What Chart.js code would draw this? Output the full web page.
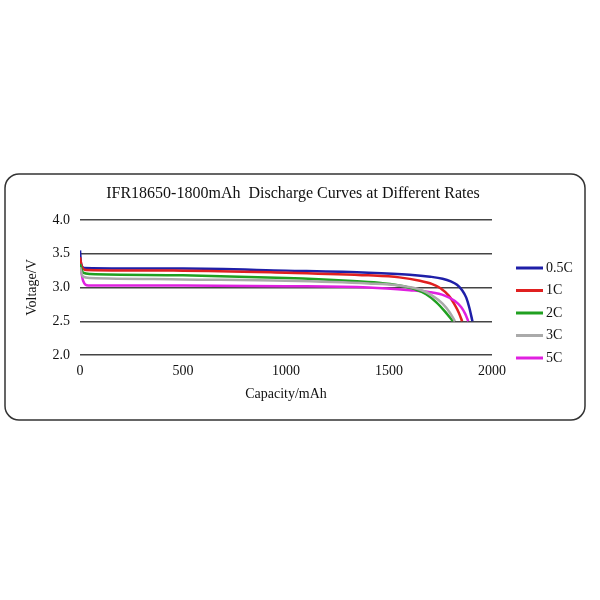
<!DOCTYPE html>
<html>
<head>
<meta charset="utf-8">
<script src="https://cdn.jsdelivr.net/npm/chart.js@4"></script>
<style>
  html, body { margin: 0; padding: 0; background: #fff; }
  #wrap { width: 600px; height: 600px; }
</style>
</head>
<body>
<div id="wrap"><canvas id="chart" width="600" height="600"></canvas></div>
<script>
// Discharge curves: capacity (mAh) / voltage (V)
const rates = ['0.5C', '1C', '2C', '3C', '5C'];
const colors = ['#1f1fa8', '#e02020', '#20a020', '#aaaaaa', '#e020e0'];
const cap05 = [0, 5, 20, 500, 1000, 1400, 1600, 1700, 1760, 1800, 1830, 1855, 1875, 1890, 1905];
const volt05 = [3.55, 3.35, 3.29, 3.28, 3.25, 3.22, 3.19, 3.16, 3.13, 3.09, 3.04, 2.96, 2.85, 2.7, 2.5];
const cap1 = [0, 10, 30, 500, 1000, 1400, 1550, 1650, 1710, 1750, 1790, 1820, 1840, 1855];
const volt1 = [3.45, 3.3, 3.26, 3.25, 3.22, 3.18, 3.15, 3.1, 3.05, 2.99, 2.88, 2.74, 2.62, 2.5];
const cap2 = [0, 15, 50, 500, 1000, 1300, 1450, 1550, 1620, 1680, 1730, 1770, 1810];
const volt2 = [3.35, 3.22, 3.2, 3.18, 3.14, 3.1, 3.07, 3.03, 2.98, 2.9, 2.78, 2.65, 2.5];
const cap3 = [0, 15, 50, 500, 1000, 1400, 1550, 1650, 1710, 1760, 1795, 1820];
const volt3 = [3.3, 3.16, 3.14, 3.12, 3.1, 3.06, 3.03, 2.97, 2.88, 2.76, 2.63, 2.5];
const cap5 = [0, 15, 40, 500, 1000, 1400, 1600, 1700, 1770, 1820, 1850, 1870, 1885];
const volt5 = [3.35, 3.1, 3.03, 3.03, 3.02, 3.0, 2.96, 2.93, 2.88, 2.8, 2.71, 2.61, 2.5];
const yTicks = [2.0, 2.5, 3.0, 3.5, 4.0];
const xTicks = [0, 500, 1000, 1500, 2000];

const caps = [cap05, cap1, cap2, cap3, cap5];
const volts = [volt05, volt1, volt2, volt3, volt5];
const serif = '"Liberation Serif", "DejaVu Serif", serif';

// Draw order: back to front roughly as in the picture
const order = [3, 2, 4, 1, 0];
const datasets = order.map(i => ({
    label: rates[i],
    data: caps[i].map((c, k) => ({x: c, y: volts[i][k]})),
    borderColor: colors[i],
    borderWidth: 2.5,
    pointRadius: 0,
    fill: false,
    cubicInterpolationMode: 'monotone'
}));

// Frame, title, axis titles and legend
const decorPlugin = {
    id: 'decor',
    beforeDraw: (chart) => {
        const {ctx} = chart;
        ctx.save();
        ctx.strokeStyle = '#333';
        ctx.lineWidth = 1.5;
        ctx.beginPath();
        ctx.roundRect(5, 174, 580, 246, 14);
        ctx.stroke();
        ctx.restore();
    },
    afterDraw: (chart) => {
        const {ctx, chartArea} = chart;
        ctx.save();
        ctx.fillStyle = '#111';
        ctx.textAlign = 'center';
        ctx.textBaseline = 'middle';
        ctx.font = '16px ' + serif;
        ctx.fillText('IFR18650-1800mAh  Discharge Curves at Different Rates', 293, 194);
        ctx.font = '14px ' + serif;
        ctx.fillText('Capacity/mAh', (chartArea.left + chartArea.right) / 2, 394);
        ctx.translate(32, (chartArea.top + chartArea.bottom) / 2);
        ctx.rotate(-Math.PI / 2);
        ctx.fillText('Voltage/V', 0, 0);
        ctx.restore();

        ctx.save();
        ctx.font = '14px ' + serif;
        ctx.textBaseline = 'middle';
        rates.forEach((r, i) => {
            const y = 268 + i * 22.5;
            ctx.strokeStyle = colors[i];
            ctx.lineWidth = 3;
            ctx.beginPath();
            ctx.moveTo(516, y);
            ctx.lineTo(543, y);
            ctx.stroke();
            ctx.fillStyle = '#111';
            ctx.fillText(r, 546, y);
        });
        ctx.restore();
    }
};

new Chart(document.getElementById('chart'), {
    type: 'line',
    data: {datasets: datasets},
    options: {
        responsive: false,
        animation: false,
        layout: {padding: {left: 0, top: 220, right: 108, bottom: 0}},
        plugins: {legend: {display: false}, tooltip: {enabled: false}},
        scales: {
            x: {
                type: 'linear',
                min: 0,
                max: 2000,
                afterBuildTicks: (s) => { s.ticks = xTicks.map(v => ({value: v})); },
                afterFit: (s) => { s.height = 245; },
                grid: {display: false, drawTicks: false},
                border: {display: false},
                ticks: {color: '#111', font: {family: serif, size: 14}, padding: 8, maxRotation: 0,
                        callback: v => String(v)}
            },
            y: {
                min: 2.0,
                max: 4.0,
                afterBuildTicks: (s) => { s.ticks = yTicks.map(v => ({value: v})); },
                afterFit: (s) => { s.width = 80; },
                grid: {color: '#444', lineWidth: 1.5, drawTicks: false},
                border: {display: false},
                ticks: {color: '#111', font: {family: serif, size: 14}, padding: 10,
                        callback: v => v.toFixed(1)}
            }
        }
    },
    plugins: [decorPlugin]
});
</script>
</body>
</html>
